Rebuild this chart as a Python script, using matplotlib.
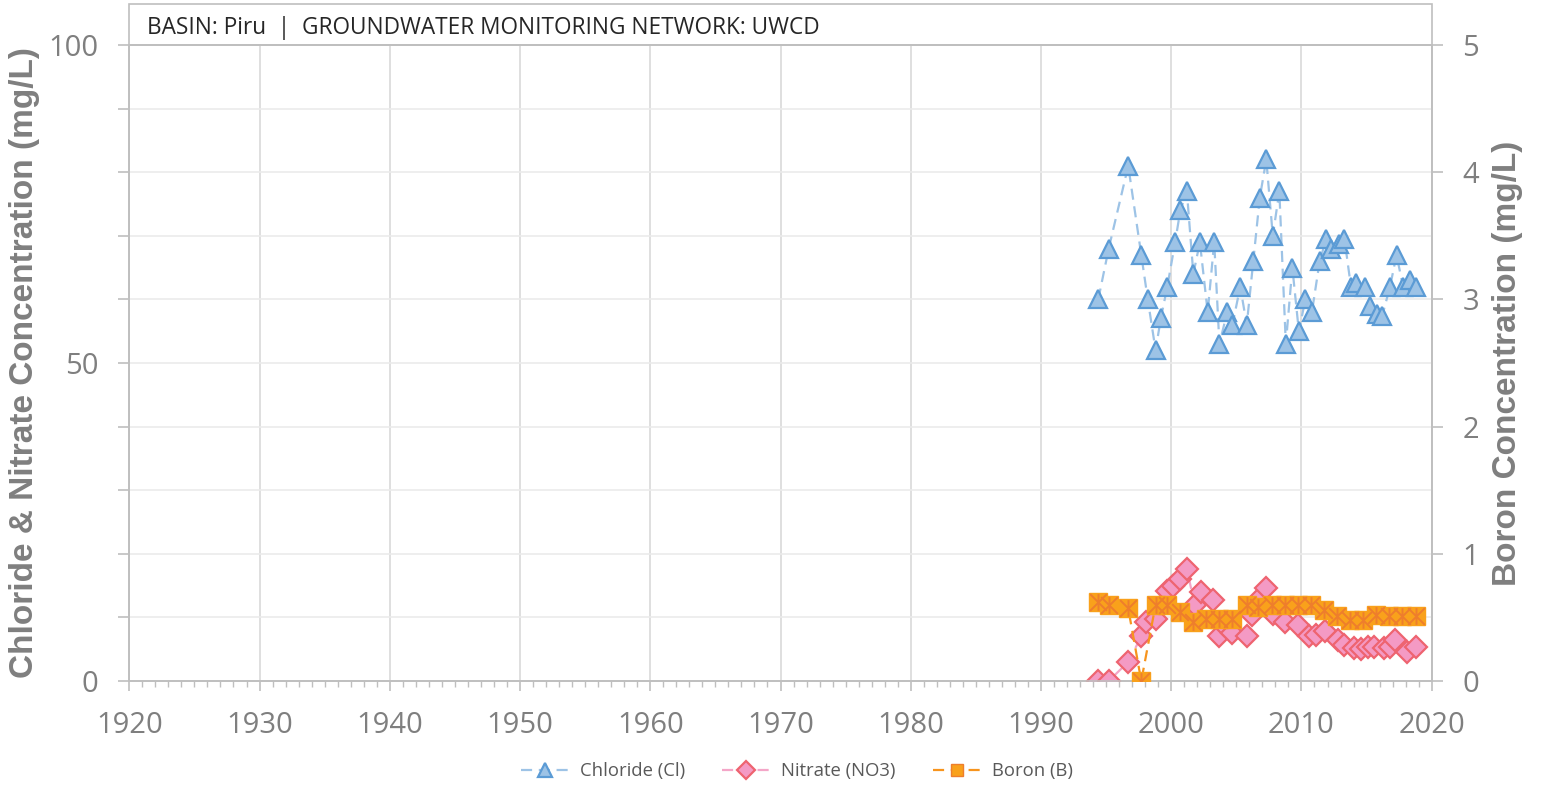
import numpy as np
import matplotlib
matplotlib.use("Agg")
import matplotlib.pyplot as plt
from matplotlib.path import Path
from matplotlib.patches import Rectangle
from matplotlib.ticker import FixedLocator, MultipleLocator, FuncFormatter

# chloride (mg/L, left axis)
cl_year = [1994.4, 1995.2, 1996.7, 1997.7, 1998.2, 1998.8, 1999.2, 1999.7, 2000.3, 2000.7,
           2001.2, 2001.7, 2002.2, 2002.8, 2003.3, 2003.7, 2004.3, 2004.7, 2005.3, 2005.8,
           2006.3, 2006.8, 2007.3, 2007.8, 2008.3, 2008.8, 2009.3, 2009.8, 2010.3, 2010.8,
           2011.4, 2011.9, 2012.3, 2012.9, 2013.3, 2013.8, 2014.2, 2014.9, 2015.3, 2015.8,
           2016.2, 2016.8, 2017.3, 2017.8, 2018.3, 2018.8]
cl_val = [60, 68, 81, 67, 60, 52, 57, 62, 69, 74,
          77, 64, 69, 58, 69, 53, 58, 56, 62, 56,
          66, 76, 82, 70, 77, 53, 65, 55, 60, 58,
          66, 69.5, 68, 68.7, 69.5, 62, 62.6, 62, 59, 57.7,
          57.4, 62, 67, 62, 63, 62]

# nitrate (mg/L, left axis)
no3_year = [1994.4, 1995.2, 1996.7, 1997.7, 1998.1, 1998.8, 1999.7, 2000.1, 2000.7, 2001.2,
            2001.8, 2002.3, 2003.2, 2003.7, 2004.2, 2004.7, 2005.8, 2006.2, 2006.8, 2007.3,
            2007.8, 2008.7, 2009.7, 2010.6, 2011.1, 2011.8, 2012.8, 2013.3, 2014.0, 2014.6,
            2015.1, 2015.6, 2016.3, 2016.8, 2017.2, 2018.1, 2018.8]
no3_val = [0.0, 0.0, 3.0, 7.0, 9.2, 9.8, 14.2, 15.0, 16.0, 17.6,
           12.0, 14.0, 12.8, 7.0, 8.5, 7.5, 7.0, 10.4, 13.0, 14.6,
           10.6, 9.2, 8.8, 7.0, 7.2, 7.8, 6.4, 5.6, 5.2, 5.0,
           5.4, 5.4, 5.2, 5.4, 6.4, 4.6, 5.4]

# boron (mg/L, right axis)
b_year = [1994.4, 1995.2, 1996.7, 1997.7, 1998.8, 1999.7, 2000.7, 2001.7, 2002.7, 2003.7,
          2004.7, 2005.8, 2006.7, 2007.7, 2008.7, 2009.7, 2010.7, 2011.7, 2012.7, 2013.7,
          2014.7, 2015.7, 2016.7, 2017.7, 2018.8]
b_val = [0.62, 0.60, 0.57, 0.0, 0.60, 0.60, 0.54, 0.46, 0.49, 0.49,
         0.49, 0.60, 0.58, 0.60, 0.60, 0.60, 0.60, 0.56, 0.51, 0.48,
         0.48, 0.52, 0.51, 0.51, 0.51]

title = "BASIN: Piru  |  GROUNDWATER MONITORING NETWORK: UWCD"

W, H = 1541, 785
fig = plt.figure(figsize=(W / 100, H / 100), dpi=100)
x0, x1, y0, y1 = 129.3, 1431.7, 45, 681
ax = fig.add_axes([x0 / W, 1 - y1 / H, (x1 - x0) / W, (y1 - y0) / H])
ax2 = ax.twinx()

gray = "#BFBFBF"
txt = "#7F7F7F"
font = "Open Sans"

# boron marker: square with asterisk
star = Path([(-0.5, -0.5), (0.5, 0.5), (-0.5, 0.5), (0.5, -0.5), (0, -0.5), (0, 0.5)],
            [Path.MOVETO, Path.LINETO, Path.MOVETO, Path.LINETO, Path.MOVETO, Path.LINETO])

ax.plot(cl_year, cl_val, ls=(0, (5, 3)), color="#9DC3E6", lw=1.6, marker="^", ms=13,
        mfc="#9DC3E6", mec="#5B9BD5", mew=1.6, label="Chloride (Cl)", zorder=3)
ax.plot(no3_year, no3_val, ls=(0, (5, 3)), color="#F4A6C8", lw=1.6, marker="D", ms=11.5,
        mfc="#F49AC4", mec="#EE6470", mew=1.6, label="Nitrate (NO3)", zorder=3)
ax2.plot(b_year, b_val, ls=(0, (5, 3)), color="#F7941D", lw=1.6, marker="s", ms=13,
         mfc="#F9A11B", mec="#F9A11B", mew=1.0, zorder=3)
ax2.plot(b_year, b_val, ls="none", marker=star, ms=12, mec="#EE7E2C", mew=1.4, zorder=4)

ax.set_xlim(1920, 2020)
ax.set_ylim(0, 100)
ax2.set_ylim(0, 5)

ax.xaxis.set_major_locator(MultipleLocator(10))
ax.xaxis.set_minor_locator(MultipleLocator(1))
ax.yaxis.set_major_locator(FixedLocator(np.arange(0, 101, 10)))
ax.yaxis.set_major_formatter(FuncFormatter(lambda v, p: f"{v:.0f}" if v % 50 == 0 else ""))
ax2.yaxis.set_major_locator(FixedLocator(np.arange(0, 6, 1)))

ax.grid(axis="x", color="#D9D9D9", lw=1.2)
ax.grid(axis="y", color="#EBEBEB", lw=1.2)
ax.set_axisbelow(True)

for a in (ax, ax2):
    for s in a.spines.values():
        s.set_color(gray)
        s.set_linewidth(1.2)
ax.tick_params(axis="x", which="major", direction="out", length=7.5, width=1.2,
               color=gray, labelcolor=txt, labelsize=21, pad=14)
ax.tick_params(axis="x", which="minor", direction="out", length=4.5, width=1.0, color=gray)
ax.tick_params(axis="y", direction="out", length=8, width=1.2, color=gray,
               labelcolor=txt, labelsize=21, pad=14)
ax2.tick_params(axis="y", direction="out", length=8, width=1.2, color=gray,
                labelcolor=txt, labelsize=21, pad=14)
for lab in ax.get_xticklabels() + ax.get_yticklabels() + ax2.get_yticklabels():
    lab.set_fontfamily(font)

ax.set_ylabel("Chloride & Nitrate Concentration (mg/L)", fontsize=24, fontweight="bold",
              color=txt, family="Liberation Sans")
ax.yaxis.set_label_coords((40 - x0) / (x1 - x0), 0.5)
ax2.set_ylabel("Boron Concentration (mg/L)", fontsize=24, fontweight="bold",
               color=txt, family="Liberation Sans")
ax2.yaxis.set_label_coords((1492 - x0) / (x1 - x0), 0.5)

# title box above the plot area
box_h = (y0 - 4) / (y1 - y0)
ax.add_patch(Rectangle((0, 1), 1, box_h, transform=ax.transAxes, fill=False,
                       edgecolor=gray, lw=1.2, clip_on=False))
ax.text((147 - x0) / (x1 - x0), 1 + (y0 - 28) / (y1 - y0), title, transform=ax.transAxes,
        fontsize=16.3, color="#262626", family=font, va="center", ha="left")

# legend
h1, l1 = ax.get_legend_handles_labels()
bh = plt.Line2D([], [], ls=(0, (5, 3)), color="#F7941D", lw=1.6, marker="s", ms=10,
                mfc="#F9A11B", mec="#EE7E2C", mew=1.0)
leg = fig.legend(h1 + [bh], l1 + ["Boron (B)"], loc="center", ncol=3,
                 bbox_to_anchor=(797 / W, 1 - 771 / H), frameon=False,
                 prop={"family": font, "size": 13.3}, handlelength=2.6,
                 handletextpad=0.6, columnspacing=2.0, markerscale=0.8)
for t in leg.get_texts():
    t.set_color("#595959")

fig.savefig("out.png", dpi=100)
